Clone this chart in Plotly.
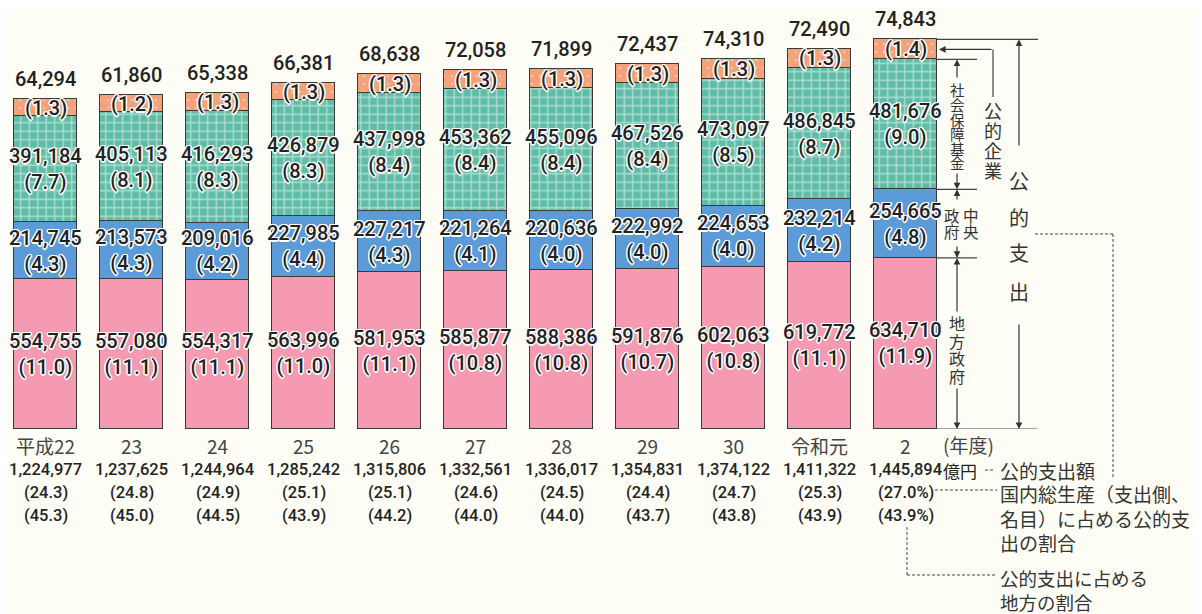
import plotly.graph_objects as go

years = ["平成22", "23", "24", "25", "26", "27", "28", "29", "30", "令和元", "2"]
local = [554755, 557080, 554317, 563996, 581953, 585877, 588386, 591876, 602063, 619772, 634710]
local_pct = [11.0, 11.1, 11.1, 11.0, 11.1, 10.8, 10.8, 10.7, 10.8, 11.1, 11.9]
central = [214745, 213573, 209016, 227985, 227217, 221264, 220636, 222992, 224653, 232214, 254665]
central_pct = [4.3, 4.3, 4.2, 4.4, 4.3, 4.1, 4.0, 4.0, 4.0, 4.2, 4.8]
social = [391184, 405113, 416293, 426879, 437998, 453362, 455096, 467526, 473097, 486845, 481676]
social_pct = [7.7, 8.1, 8.3, 8.3, 8.4, 8.4, 8.4, 8.4, 8.5, 8.7, 9.0]
enterprise = [64294, 61860, 65338, 66381, 68638, 72058, 71899, 72437, 74310, 72490, 74843]
enterprise_pct = [1.3, 1.2, 1.3, 1.3, 1.3, 1.3, 1.3, 1.3, 1.3, 1.3, 1.4]
total = [1224977, 1237625, 1244964, 1285242, 1315806, 1332561, 1336017, 1354831, 1374122, 1411322, 1445894]
gdp_share = [24.3, 24.8, 24.9, 25.1, 25.1, 24.6, 24.5, 24.4, 24.7, 25.3, 27.0]
local_share = [45.3, 45.0, 44.5, 43.9, 44.2, 44.0, 44.0, 43.7, 43.8, 43.9, 43.9]

# page has an 8px body margin: figure is drawn 8px smaller and coordinates are given in page pixels
OFF = 8
W, H = 1202 - OFF, 614 - OFF
BASE = 429                       # page y of the bars' baseline
PLOT_H = BASE - OFF
YMAX = 1562000
BG = "#FEFEF6"
PINK = "#F59AB0"
BLUE = "#5B9BD7"
TEAL = "#5FBDA6"
ORANGE = "#F5A27A"
LINE = "#3a3a3a"
TXT = "#222222"
NUM_FONT = "Roboto, Noto Sans CJK JP, sans-serif"
JP_FONT = "Noto Sans CJK JP, sans-serif"
HALO = ("1px 1px 0 #fff, -1px -1px 0 #fff, 1px -1px 0 #fff, -1px 1px 0 #fff, "
        "0 1.5px 0 #fff, 0 -1.5px 0 #fff, 1.5px 0 0 #fff, -1.5px 0 0 #fff")

n = len(years)
xs = list(range(n))
BAR_W = 0.733
PITCH = 86
FIRST_CX = 45.5

fig = go.Figure()
for vals, col, pat in [
    (local, PINK, None),
    (central, BLUE, None),
    (social, TEAL, dict(shape="+", fgcolor="white", bgcolor=TEAL, size=8.5, solidity=0.3)),
    (enterprise, ORANGE, dict(shape=".", fgcolor="white", bgcolor=ORANGE, size=8, solidity=0.06)),
]:
    marker = dict(color=col, line=dict(color=LINE, width=1.2))
    if pat:
        marker["pattern"] = pat
    fig.add_trace(go.Bar(x=xs, y=vals, width=BAR_W, marker=marker, hoverinfo="skip", showlegend=False))

ann = []


def seg_label(x, y, text, size=20, halo=True, yshift=0):
    ann.append(dict(x=x, y=y, xref="x", yref="y", text=text, showarrow=False,
                    yshift=yshift, xanchor="center", yanchor="middle",
                    font=dict(family=NUM_FONT, size=size, color=TXT, weight=500,
                              shadow=HALO if halo else "none")))


for i in range(n):
    b1 = local[i]
    b2 = b1 + central[i]
    b3 = b2 + social[i]
    b4 = b3 + enterprise[i]
    seg_label(i, b1 / 2, f"{local[i]:,}<br>({local_pct[i]:.1f})")
    seg_label(i, (b1 + b2) / 2, f"{central[i]:,}<br>({central_pct[i]:.1f})")
    seg_label(i, (b2 + b3) / 2, f"{social[i]:,}<br>({social_pct[i]:.1f})")
    seg_label(i, (b3 + b4) / 2, f"({enterprise_pct[i]:.1f})")
    seg_label(i, b4, f"{enterprise[i]:,}", halo=False, yshift=20)
    pct = "%" if i == n - 1 else ""
    ann.append(dict(x=i, y=0, xref="x", yref="y", text=years[i], showarrow=False, yshift=-16,
                    yanchor="middle", font=dict(family=JP_FONT, size=19, color="#444")))
    for txt, sh in [(f"{total[i]:,}", -40), (f"({gdp_share[i]:.1f}{pct})", -63),
                    (f"({local_share[i]:.1f}{pct})", -86)]:
        ann.append(dict(x=i, y=0, xref="x", yref="y", text=txt, showarrow=False, yshift=sh,
                        yanchor="middle", font=dict(family=NUM_FONT, size=16.5, color=TXT, weight=500)))


def px(xp):
    return (xp - OFF) / W


def py(yp):
    return (BASE - yp) / PLOT_H


def ypx(v):
    return BASE - v * PLOT_H / YMAX


def text_at(x, y, t, size=18, anchor="center", yanchor="middle", font=JP_FONT, color="#333"):
    ann.append(dict(x=px(x), y=py(y), xref="paper", yref="paper", text=t, showarrow=False,
                    xanchor=anchor, yanchor=yanchor, align="left",
                    font=dict(family=font, size=size, color=color)))


def arrow(hx, hy, tx, ty):
    ann.append(dict(x=px(hx), y=py(hy), xref="paper", yref="paper", text="", showarrow=True,
                    ax=tx - hx, ay=ty - hy, axref="pixel", ayref="pixel",
                    arrowhead=2, arrowsize=1.1, arrowwidth=1.2, arrowcolor="#333",
                    standoff=0, startstandoff=0))


shapes = []


def hline(x0, x1, yv, yref="y", dash="solid", color="#444", width=1.2):
    shapes.append(dict(type="line", xref="paper", yref=yref, x0=px(x0), x1=px(x1), y0=yv, y1=yv,
                       line=dict(color=color, width=width, dash=dash)))


def vline(xv, y0, y1, dash="solid", color="#444", width=1.2):
    shapes.append(dict(type="line", xref="paper", yref="paper", x0=px(xv), x1=px(xv),
                       y0=py(y0), y1=py(y1), line=dict(color=color, width=width, dash=dash)))


last = n - 1
top_pink = local[last]
top_blue = top_pink + central[last]
top_teal = top_blue + social[last]
top_all = top_teal + enterprise[last]
mid_ent = top_teal + enterprise[last] / 2

bar_right = 937
hline(bar_right, 1038, top_all)
hline(bar_right, 977, top_teal)
hline(bar_right, 977, top_blue)
hline(bar_right, 977, top_pink)
hline(bar_right, 1037, 0)

# 公的支出
arrow(1019, ypx(top_all), 1019, 147)
for ch, yy in zip("公的支出", [180, 217, 253, 291]):
    text_at(1019, yy, ch, size=20)
arrow(1019, ypx(0), 1019, 323)

# 公的企業
arrow(939, ypx(mid_ent), 993, ypx(mid_ent))
vline(993, ypx(mid_ent), 97)
for ch, yy in zip("公的企業", [110, 130, 150, 170]):
    text_at(993, yy, ch, size=18)

# 社会保障基金
arrow(957, ypx(top_teal), 957, 79)
for ch, yy in zip("社会保障基金", [90, 104.5, 119, 133.5, 148, 162.5]):
    text_at(957, yy, ch, size=14.5)
arrow(957, ypx(top_blue), 957, 172)

# 中央政府
arrow(957, ypx(top_blue), 957, 201)
text_at(971, 215, "中", size=15.5)
text_at(971, 231, "央", size=15.5)
text_at(952, 215, "政", size=15.5)
text_at(952, 231, "府", size=15.5)
arrow(957, ypx(top_pink), 957, 245)

# 地方政府
arrow(957, ypx(top_pink), 957, 313)
for ch, yy in zip("地方政府", [323, 341, 358, 376]):
    text_at(957, yy, ch, size=16)
arrow(957, ypx(0), 957, 387)

# bottom right texts
text_at(968, 445, "(年度)", size=19, color="#444")
text_at(941, 470, "億円", size=17, anchor="left", color=TXT)
text_at(998, 470, "公的支出額", size=19, anchor="left")
text_at(998, 478, "国内総生産（支出側、<br>名目）に占める公的支<br>出の割合", size=19, anchor="left", yanchor="top")
text_at(998, 563, "公的支出に占める<br>地方の割合", size=18.5, anchor="left", yanchor="top")

DASH = "3px,2px"
hline(1035, 1113, py(234), yref="paper", dash=DASH, width=1)
vline(1113, 234, 478, dash=DASH, width=1)
hline(985, 995, py(470), yref="paper", dash=DASH, width=1)
hline(935, 997, py(490), yref="paper", dash=DASH, width=1)
vline(907, 527, 575, dash=DASH, width=1)
hline(907, 997, py(575), yref="paper", dash=DASH, width=1)

x0 = -(FIRST_CX - OFF) / PITCH
x1 = (W - (FIRST_CX - OFF)) / PITCH
fig.update_layout(
    width=W, height=H, barmode="stack", bargap=0,
    margin=dict(l=0, r=0, t=0, b=H - PLOT_H, pad=0),
    paper_bgcolor=BG, plot_bgcolor=BG,
    xaxis=dict(range=[x0, x1], visible=False, fixedrange=True),
    yaxis=dict(range=[0, YMAX], visible=False, fixedrange=True),
    annotations=ann, shapes=shapes, showlegend=False,
)
fig.write_html("out.html")
